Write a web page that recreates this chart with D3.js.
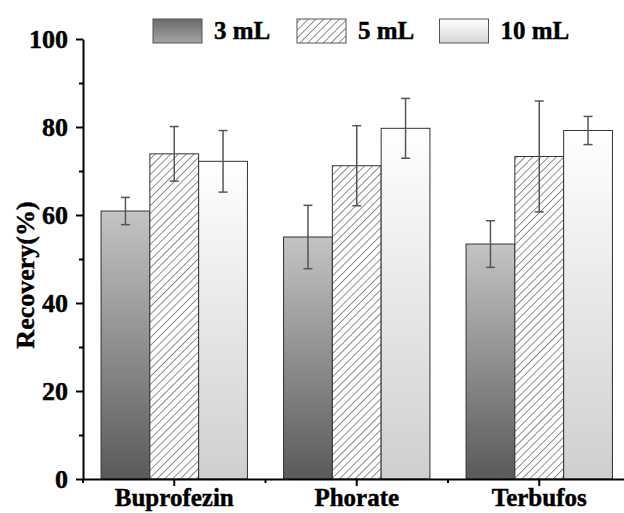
<!DOCTYPE html>
<html>
<head>
<meta charset="utf-8">
<script src="https://cdn.jsdelivr.net/npm/d3@7"></script>
<style>
  html, body { margin: 0; padding: 0; background: #fff; }
  svg { display: block; }
  text { font-family: "Liberation Serif", "Times New Roman", serif; font-weight: bold; fill: #000; stroke: #000; stroke-width: 0.45px; }
</style>
</head>
<body>
<script>
// ---- data ----
const categories = ["Buprofezin", "Phorate", "Terbufos"];
const seriesNames = ["3 mL", "5 mL", "10 mL"];
const values3mL  = [60.9, 55.0, 53.4];
const values5mL  = [73.9, 71.2, 73.3];
const values10mL = [72.2, 79.7, 79.2];
const errors3mL  = [3.1, 7.2, 5.3];
const errors5mL  = [6.2, 9.1, 12.6];
const errors10mL = [7.0, 6.8, 3.2];
const yTicks = [0, 20, 40, 60, 80, 100];
const yMinorTicks = [10, 30, 50, 70, 90];

const seriesValues = [values3mL, values5mL, values10mL];
const seriesErrors = [errors3mL, errors5mL, errors10mL];

const W = 624, H = 513;
const svg = d3.select("body").append("svg").attr("width", W).attr("height", H);

// ---- defs: gradients & hatch ----
const defs = svg.append("defs");
const g1 = defs.append("linearGradient").attr("id", "grad3").attr("x1", 0).attr("y1", 0).attr("x2", 0).attr("y2", 1);
g1.append("stop").attr("offset", "0%").attr("stop-color", "#c4c4c4");
g1.append("stop").attr("offset", "100%").attr("stop-color", "#5a5a5a");
const g3 = defs.append("linearGradient").attr("id", "grad10").attr("x1", 0).attr("y1", 0).attr("x2", 0).attr("y2", 1);
g3.append("stop").attr("offset", "0%").attr("stop-color", "#ffffff");
g3.append("stop").attr("offset", "100%").attr("stop-color", "#cfcfcf");
const gl1 = defs.append("linearGradient").attr("id", "gradLeg3").attr("x1", 0).attr("y1", 0).attr("x2", 0).attr("y2", 1);
gl1.append("stop").attr("offset", "0%").attr("stop-color", "#6a6a6a");
gl1.append("stop").attr("offset", "100%").attr("stop-color", "#a4a4a4");
const gl3 = defs.append("linearGradient").attr("id", "gradLeg10").attr("x1", 0).attr("y1", 0).attr("x2", 0).attr("y2", 1);
gl3.append("stop").attr("offset", "0%").attr("stop-color", "#ffffff");
gl3.append("stop").attr("offset", "100%").attr("stop-color", "#d6d6d6");
const hatch = defs.append("pattern").attr("id", "hatch").attr("patternUnits", "userSpaceOnUse")
  .attr("width", 5.5).attr("height", 5.5).attr("patternTransform", "rotate(45)");
hatch.append("rect").attr("width", 5.5).attr("height", 5.5).attr("fill", "#fff");
hatch.append("line").attr("x1", 0).attr("y1", 0).attr("x2", 0).attr("y2", 5.5)
  .attr("stroke", "#333").attr("stroke-width", 1.1);

const fills = ["url(#grad3)", "url(#hatch)", "url(#grad10)"];
const legendFills = ["url(#gradLeg3)", "url(#hatch)", "url(#gradLeg10)"];

// ---- scales ----
const x0 = d3.scaleBand().domain(categories).range([83, 630.5]).padding(0);
const x1 = d3.scaleBand().domain(seriesNames).range([0, x0.bandwidth()]).paddingInner(0).paddingOuter(0.37);
const y = d3.scaleLinear().domain([0, 100]).range([479, 39]);

// ---- bars ----
const groups = svg.append("g").selectAll("g").data(categories).join("g")
  .attr("transform", d => `translate(${x0(d)},0)`);

groups.each(function(cat, ci) {
  const g = d3.select(this);
  seriesNames.forEach((s, si) => {
    const v = seriesValues[si][ci];
    g.append("rect")
      .attr("x", x1(s)).attr("y", y(v))
      .attr("width", x1.bandwidth()).attr("height", y(0) - y(v))
      .attr("fill", fills[si]).attr("stroke", "#333").attr("stroke-width", 1);
  });
  seriesNames.forEach((s, si) => {
    const v = seriesValues[si][ci], e = seriesErrors[si][ci];
    const cx = x1(s) + x1.bandwidth() / 2;
    const eg = g.append("g").attr("stroke", "#555").attr("stroke-width", 1.5);
    eg.append("line").attr("x1", cx).attr("x2", cx).attr("y1", y(v + e)).attr("y2", y(v - e));
    eg.append("line").attr("x1", cx - 4.5).attr("x2", cx + 4.5).attr("y1", y(v + e)).attr("y2", y(v + e));
    eg.append("line").attr("x1", cx - 4.5).attr("x2", cx + 4.5).attr("y1", y(v - e)).attr("y2", y(v - e));
  });
});

// ---- axes ----
const yAxis = svg.append("g").attr("transform", "translate(83,0)")
  .call(d3.axisLeft(y).tickValues(yTicks).tickSize(7).tickSizeOuter(0).tickPadding(8).tickFormat(d3.format("d")));
svg.append("g").attr("transform", "translate(83,0)")
  .call(d3.axisLeft(y).tickValues(yMinorTicks).tickSize(4).tickSizeOuter(0).tickFormat(""))
  .select(".domain").remove();
yAxis.selectAll("text").style("font-size", "26px");

const xAxis = svg.append("g").attr("transform", "translate(0,479)")
  .call(d3.axisBottom(x0).tickSize(7).tickSizeOuter(0).tickPadding(2));
xAxis.selectAll("text").style("font-size", "25px");
// minor ticks at category boundaries
svg.append("g").selectAll("line").data(categories).join("line")
  .attr("x1", d => x0(d)).attr("x2", d => x0(d))
  .attr("y1", 479).attr("y2", 483).attr("stroke", "#000").attr("stroke-width", 2);

svg.selectAll(".domain").attr("stroke-width", 2);
svg.selectAll(".tick line").attr("stroke-width", 2);

// ---- axis title ----
svg.append("text")
  .attr("transform", "translate(34,275) rotate(-90)")
  .attr("text-anchor", "middle")
  .style("font-size", "26px")
  .text("Recovery(%)");

// ---- legend ----
const legendX = [153, 297, 439.5];
const legend = svg.append("g");
seriesNames.forEach((s, i) => {
  legend.append("rect").attr("x", legendX[i]).attr("y", 19).attr("width", 49).attr("height", 24)
    .attr("fill", legendFills[i]).attr("stroke", "#555").attr("stroke-width", 1);
  legend.append("text").attr("x", legendX[i] + 61).attr("y", 39)
    .style("font-size", "25px").text(s);
});
</script>
</body>
</html>
